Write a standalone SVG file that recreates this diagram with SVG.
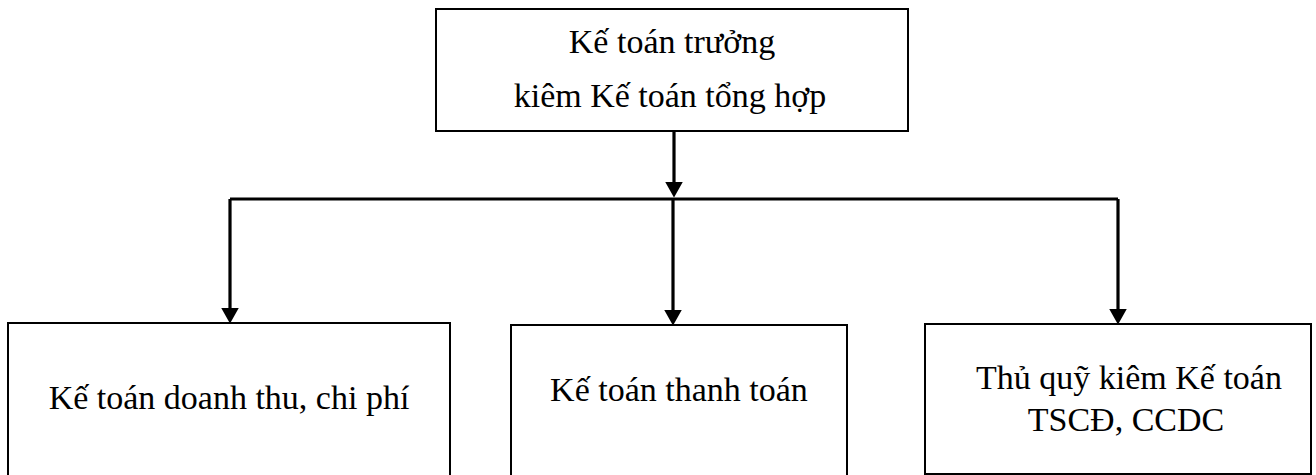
<svg xmlns="http://www.w3.org/2000/svg" width="1316" height="475" viewBox="0 0 1316 475">
<style>
.box{fill:#fff;stroke:#000;stroke-width:2}
.t{font-size:34px;fill:#000;text-anchor:middle}
.c{fill:none;stroke:#000;stroke-width:3.2}
</style>
<defs>
<marker id="ah" markerUnits="userSpaceOnUse" markerWidth="16" markerHeight="18" viewBox="0 0 15 17" refX="7" refY="8.5" orient="auto">
<path d="M0,0 L15,8.5 L0,17 Z" fill="#000"/>
</marker>
</defs>
<rect width="1316" height="475" fill="#fff"/>
<g id="connectors">
<path class="c" d="M674,131 V189" marker-end="url(#ah)"/>
<path class="c" d="M230,199 H1118"/>
<path class="c" d="M230,199 V315" marker-end="url(#ah)"/>
<path class="c" d="M673,199 V317" marker-end="url(#ah)"/>
<path class="c" d="M1118,199 V316" marker-end="url(#ah)"/>
</g>
<g font-family="Liberation Serif, Times New Roman, serif">
<g id="top">
<rect class="box" x="436" y="9" width="472" height="122"/>
<text class="t" x="672" y="53">Kế toán trưởng</text>
<text class="t" x="670" y="107">kiêm Kế toán tổng hợp</text>
</g>
<g id="doanhthu">
<rect class="box" x="8" y="323" width="442" height="170"/>
<text class="t" x="229" y="409">Kế toán doanh thu, chi phí</text>
</g>
<g id="thanhtoan">
<rect class="box" x="511" y="325" width="336" height="170"/>
<text class="t" x="679" y="401">Kế toán thanh toán</text>
</g>
<g id="thuquy">
<rect class="box" x="925" y="324" width="386" height="150"/>
<text class="t" x="1129" y="389">Thủ quỹ kiêm Kế toán</text>
<text class="t" x="1126" y="431">TSCĐ, CCDC</text>
</g>
</g>
</svg>
